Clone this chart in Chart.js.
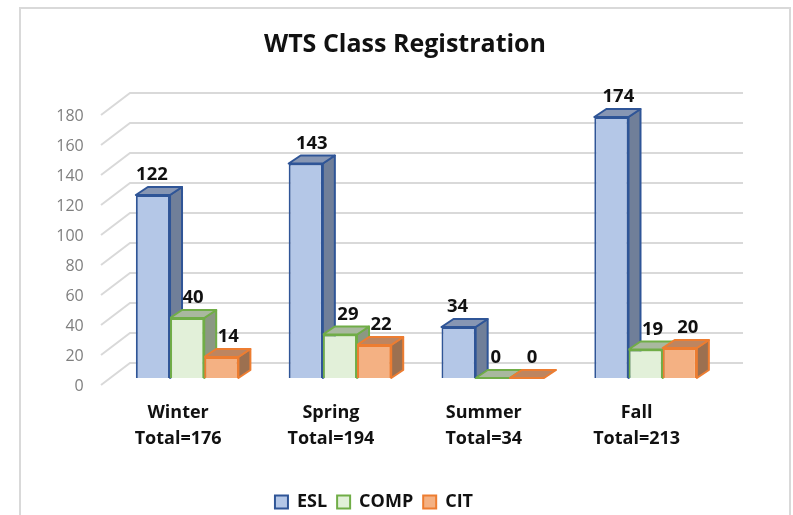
<!DOCTYPE html>
<html><head><meta charset="utf-8">
<style>
html,body{margin:0;padding:0;background:#fff;overflow:hidden}
#frame{position:absolute;left:19px;top:7px;width:768px;height:508px;border:2px solid #d9d9d9;border-bottom:none;box-sizing:content-box}
#wrap{position:relative;width:768px;height:506px}
canvas{display:block}
</style>
<script src="https://cdn.jsdelivr.net/npm/chart.js@4"></script>
</head><body>
<div id="frame"><div id="wrap"><canvas id="c" width="768" height="506" style="width:768px;height:506px"></canvas></div></div>
<script>
const categories = [["Winter","Total=176"],["Spring","Total=194"],["Summer","Total=34"],["Fall","Total=213"]];
const eslValues = [122,143,34,174];
const compValues = [40,29,0,19];
const citValues = [14,22,0,20];
const yTickStep = 20;
const yMax = 180;

const FONT = '"Open Sans", sans-serif';
const faces = [
  {fill:'#b4c7e7',line:'#2f5597',top:'#8796b3',side:'#707f99'},
  {fill:'#e2f0d9',line:'#70ad47',top:'#a9b89f',side:'#8b9883'},
  {fill:'#f4b183',line:'#ed7d31',top:'#bd8560',side:'#9c7050'}
];
const DEPTH_X = 12, DEPTH_Y = 8;
const labelShift = [[-1,6,-1,7],[6,8,3,7],[7,7,5,8]];

const wall = {
  id:'wall',
  beforeDatasetsDraw(chart){
    const {ctx,scales:{y}} = chart;
    ctx.save();
    ctx.strokeStyle='#d9d9d9';ctx.lineWidth=2;
    y.ticks.forEach(t=>{
      const p=y.getPixelForValue(t.value);
      ctx.beginPath();
      ctx.moveTo(80,p+7);ctx.lineTo(109,p-15);ctx.lineTo(722,p-15);
      ctx.stroke();
    });
    ctx.restore();
  }
};
const bars3d = {
  id:'bars3d',
  beforeDatasetsDraw(chart){
    const {ctx}=chart;
    ctx.save();
    ctx.lineJoin='round';ctx.lineWidth=2;
    chart.data.datasets.forEach((ds,i)=>{
      const f=faces[i];
      chart.getDatasetMeta(i).data.forEach(b=>{
        const L=b.x-b.width/2,R=b.x+b.width/2,T=b.y,B=b.base;
        ctx.strokeStyle=f.line;
        if(B-T>0.5){
          ctx.fillStyle=f.side;
          ctx.beginPath();
          ctx.moveTo(R,T);ctx.lineTo(R+DEPTH_X,T-DEPTH_Y);ctx.lineTo(R+DEPTH_X,B-DEPTH_Y);ctx.lineTo(R,B);ctx.closePath();
          ctx.fill();ctx.stroke();
        }
        ctx.fillStyle=f.top;
        ctx.beginPath();
        ctx.moveTo(L,T);ctx.lineTo(L+DEPTH_X,T-DEPTH_Y);ctx.lineTo(R+DEPTH_X,T-DEPTH_Y);ctx.lineTo(R,T);ctx.closePath();
        ctx.fill();ctx.stroke();
      });
    });
    ctx.restore();
  },
  afterDatasetsDraw(chart){
    const {ctx}=chart;
    ctx.save();
    ctx.font='bold 18.5px '+FONT;ctx.fillStyle='#111';ctx.textAlign='center';ctx.textBaseline='middle';
    chart.data.datasets.forEach((ds,i)=>{
      chart.getDatasetMeta(i).data.forEach((b,j)=>{
        ctx.fillText(String(ds.data[j]),b.x+labelShift[i][j],b.y-20);
      });
    });
    ctx.restore();
  }
};
const boxShift = {
  id:'boxShift',
  afterLayout(chart){
    const l=chart.legend;
    l.left+=2.5;l.right+=2.5;l.top+=6;l.bottom+=6;
    const t=chart.titleBlock;
    t.left+=33.5;t.right+=33.5;
  }
};
const mk=(label,data,i)=>({label,data,backgroundColor:faces[i].fill,borderColor:faces[i].line,borderWidth:2,categoryPercentage:0.671,barPercentage:1});
new Chart(document.getElementById('c'),{
  type:'bar',
  data:{labels:categories,datasets:[mk('ESL',eslValues,0),mk('COMP',compValues,1),mk('CIT',citValues,2)]},
  plugins:[wall,bars3d,boxShift],
  options:{
    responsive:false,animation:false,devicePixelRatio:1,
    layout:{padding:{left:0,right:67,top:0,bottom:0}},
    plugins:{
      title:{display:true,text:'WTS Class Registration',color:'#111',font:{family:FONT,size:25,weight:'bold'},padding:{top:21,bottom:48}},
      legend:{position:'bottom',labels:{boxWidth:13,boxHeight:13,padding:10,color:'#111',font:{family:FONT,size:18,weight:'bold'}}},
      tooltip:{enabled:false}
    },
    scales:{
      x:{
        grid:{display:false},border:{display:false},
        afterFit(s){s.height=99;},
        ticks:{color:'#111',padding:14,labelOffset:-9,maxRotation:0,autoSkip:false,font:{family:FONT,size:18,weight:'bold',lineHeight:1.44}}
      },
      y:{
        min:0,max:yMax,
        grid:{display:false},border:{display:false},
        afterFit(s){s.width=89.7;},
        ticks:{stepSize:yTickStep,color:'#7f7f7f',padding:19,labelOffset:8,font:{family:FONT,size:16}}
      }
    }
  }
});
</script>
</body></html>
